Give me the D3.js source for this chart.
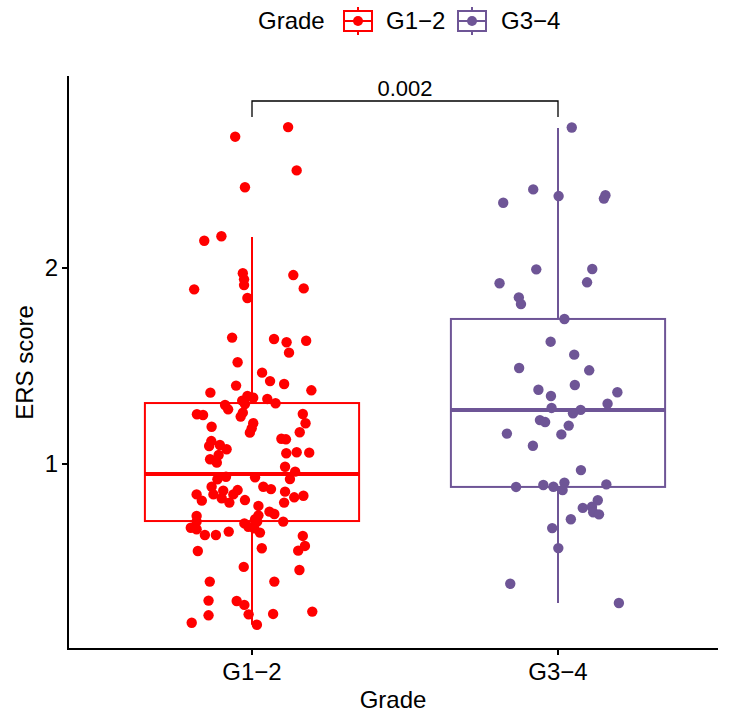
<!DOCTYPE html>
<html>
<head>
<meta charset="utf-8">
<script src="https://cdn.jsdelivr.net/npm/d3@7"></script>
<style>
  body { margin: 0; background: #fff; }
  text { font-family: "Liberation Sans", Arial, sans-serif; }
</style>
</head>
<body>
<svg id="chart" width="730" height="717"></svg>
<script>
// categories and colours
var categories = ["G1\u22122", "G3\u22124"];
var colors = ["#FF0000", "#6E5596"];

// box statistics: [lower whisker, q1, median, q3, upper whisker]
var g12Box = [0.18, 0.709, 0.949, 1.311, 2.158];
var g34Box = [0.291, 0.883, 1.276, 1.740, 2.714];

// ERS score of each sample and its jitter (in category units)
var g12Values = [2.719,2.670,2.498,2.412,2.162,2.139,1.973,1.964,1.942,1.913,1.891,1.896,1.847,1.645,1.638,1.621,1.629,1.568,1.519,1.466,
  1.423,1.408,1.400,1.364,1.376,1.347,1.338,1.323,1.306,1.332,1.310,1.301,1.279,1.254,1.250,1.262,1.242,1.255,1.208,1.208,
  1.182,1.190,1.160,1.162,1.129,1.126,1.117,1.092,1.097,1.075,1.046,1.055,1.060,1.058,1.024,1.007,0.986,0.961,0.935,0.922,
  0.932,0.923,0.884,0.884,0.872,0.867,0.864,0.845,0.845,0.859,0.845,0.838,0.830,0.825,0.813,0.816,0.803,0.803,0.786,0.757,
  0.745,0.735,0.738,0.718,0.706,0.697,0.706,0.706,0.680,0.675,0.667,0.672,0.650,0.638,0.638,0.655,0.633,0.582,0.558,0.556,
  0.570,0.475,0.459,0.400,0.400,0.303,0.301,0.281,0.228,0.233,0.235,0.247,0.190,0.180];
var g12Jitter = [0.118,-0.055,0.146,-0.023,-0.100,-0.156,-0.030,0.135,-0.026,-0.026,-0.189,0.169,-0.015,-0.065,0.072,0.113,0.177,0.121,-0.047,0.033,
  0.059,0.105,-0.052,-0.136,0.194,-0.015,0.004,-0.032,-0.023,0.050,0.077,-0.088,-0.078,-0.180,-0.160,-0.030,-0.037,0.166,0.175,0.004,
  -0.001,-0.132,-0.007,0.156,0.096,0.111,-0.133,-0.140,-0.105,-0.083,-0.109,0.112,0.146,0.187,-0.137,-0.115,0.108,0.141,-0.085,-0.113,
  0.010,0.124,-0.132,0.037,0.062,-0.047,-0.094,-0.181,-0.126,0.108,-0.061,0.168,0.138,-0.099,-0.164,-0.023,-0.074,0.105,0.021,0.057,
  0.073,-0.181,0.021,0.010,-0.181,-0.025,0.017,0.102,-0.012,-0.200,-0.181,0.007,0.026,-0.154,-0.118,-0.076,0.166,0.173,0.151,-0.177,
  0.032,-0.027,0.155,-0.138,0.073,-0.142,-0.050,-0.025,-0.142,-0.011,0.069,0.197,-0.197,0.016];

var g34Values = [2.717,2.401,2.367,2.371,2.354,2.333,1.993,1.995,1.922,1.927,1.850,1.816,1.740,1.624,1.558,1.490,1.478,1.403,1.379,1.366,
  1.347,1.308,1.286,1.276,1.259,1.224,1.214,1.196,1.155,1.151,1.093,0.969,0.883,0.893,0.884,0.905,0.867,0.896,0.815,0.776,
  0.782,0.754,0.743,0.718,0.673,0.571,0.389,0.291];
var g34Jitter = [0.045,-0.081,0.002,0.155,0.150,-0.179,-0.071,0.112,-0.191,0.095,-0.128,-0.121,0.021,-0.024,0.053,-0.127,0.102,0.055,-0.064,0.194,
  -0.023,0.162,-0.021,0.074,0.049,-0.059,-0.042,0.035,-0.167,0.011,-0.082,0.075,-0.137,-0.048,-0.015,0.021,0.015,0.158,0.130,0.081,
  0.111,0.115,0.134,0.042,-0.019,0.001,-0.156,0.199];

var yTicks = [1, 2];
var pValue = "0.002";
var bracketY = [2.77, 2.852];

var svg = d3.select("#chart"),
    panelLeft = 68, panelRight = 718, panelTop = 76, panelBottom = 649;

var x = d3.scalePoint().domain(categories).range([252, 558]),
    step = x(categories[1]) - x(categories[0]),
    y = d3.scaleLinear().domain([0, 3]).range([660, 72]);

var groups = [
  {name: categories[0], color: colors[0], box: g12Box, values: g12Values, jitter: g12Jitter},
  {name: categories[1], color: colors[1], box: g34Box, values: g34Values, jitter: g34Jitter}
];

var boxW = step * 0.7;

// boxes
var bx = svg.append("g");
groups.forEach(function(gr) {
  var cx = x(gr.name), b = gr.box;
  bx.append("line")
      .attr("x1", cx).attr("x2", cx)
      .attr("y1", y(b[0])).attr("y2", y(b[1]))
      .attr("stroke", gr.color).attr("stroke-width", 2);
  bx.append("line")
      .attr("x1", cx).attr("x2", cx)
      .attr("y1", y(b[3])).attr("y2", y(b[4]))
      .attr("stroke", gr.color).attr("stroke-width", 2);
  bx.append("rect")
      .attr("x", cx - boxW / 2).attr("width", boxW)
      .attr("y", y(b[3])).attr("height", y(b[1]) - y(b[3]))
      .attr("fill", "#fff").attr("stroke", gr.color).attr("stroke-width", 2);
  bx.append("line")
      .attr("x1", cx - boxW / 2).attr("x2", cx + boxW / 2)
      .attr("y1", y(b[2])).attr("y2", y(b[2]))
      .attr("stroke", gr.color).attr("stroke-width", 4);
});

// jittered points
groups.forEach(function(gr) {
  svg.append("g").selectAll("circle")
    .data(gr.values)
    .enter().append("circle")
      .attr("cx", function(d, i) { return x(gr.name) + gr.jitter[i] * step; })
      .attr("cy", function(d) { return y(d); })
      .attr("r", 5.2)
      .attr("fill", gr.color);
});

// axes
var yAxis = svg.append("g");
yAxis.append("line")
    .attr("x1", panelLeft).attr("x2", panelLeft).attr("y1", panelTop).attr("y2", panelBottom + 1)
    .attr("stroke", "#000").attr("stroke-width", 2);
yAxis.selectAll(".tick")
  .data(yTicks)
  .enter().append("g")
    .attr("transform", function(d) { return "translate(0," + y(d) + ")"; })
    .each(function(d) {
      var t = d3.select(this);
      t.append("line").attr("x1", panelLeft - 6).attr("x2", panelLeft).attr("stroke", "#000").attr("stroke-width", 2);
      t.append("text").attr("x", panelLeft - 10).attr("dy", "0.35em")
        .attr("text-anchor", "end").style("font-size", "24px").text(d);
    });

var xAxis = svg.append("g");
xAxis.append("line")
    .attr("x1", panelLeft - 1).attr("x2", panelRight).attr("y1", panelBottom).attr("y2", panelBottom)
    .attr("stroke", "#000").attr("stroke-width", 2);
xAxis.selectAll(".tick")
  .data(categories)
  .enter().append("g")
    .attr("transform", function(d) { return "translate(" + x(d) + "," + panelBottom + ")"; })
    .each(function(d) {
      var t = d3.select(this);
      t.append("line").attr("y1", 0).attr("y2", 6).attr("stroke", "#000").attr("stroke-width", 2);
      t.append("text").attr("y", 31).attr("text-anchor", "middle").style("font-size", "24px").text(d);
    });

svg.append("text")
    .attr("x", (panelLeft + panelRight) / 2).attr("y", 708)
    .attr("text-anchor", "middle").style("font-size", "24px").text("Grade");

svg.append("text")
    .attr("transform", "translate(33," + ((panelTop + panelBottom) / 2) + ") rotate(-90)")
    .attr("text-anchor", "middle").style("font-size", "24px").text("ERS score");

// p-value bracket
svg.append("path")
    .attr("d", "M" + x(categories[0]) + "," + y(bracketY[0]) + "V" + y(bracketY[1]) +
               "H" + x(categories[1]) + "V" + y(bracketY[0]))
    .attr("fill", "none").attr("stroke", "#000").attr("stroke-width", 1.3);
svg.append("text")
    .attr("x", (x(categories[0]) + x(categories[1])) / 2).attr("y", y(bracketY[1]) - 5)
    .attr("text-anchor", "middle").style("font-size", "22px").text(pValue);

// legend
var lg = svg.append("g").attr("transform", "translate(0,21)");
lg.append("text").attr("x", 258).attr("dy", "0.35em").style("font-size", "24px").text("Grade");
var keyX = [344, 458], labelX = [386, 501];
groups.forEach(function(gr, i) {
  var k = lg.append("g").attr("transform", "translate(" + keyX[i] + ",0)");
  k.append("line").attr("x1", 14).attr("x2", 14).attr("y1", -14).attr("y2", 14)
    .attr("stroke", gr.color).attr("stroke-width", 2);
  k.append("rect").attr("x", 0).attr("y", -10).attr("width", 28).attr("height", 20)
    .attr("fill", "#fff").attr("stroke", gr.color).attr("stroke-width", 2);
  k.append("line").attr("x1", 0).attr("x2", 28).attr("y1", 0).attr("y2", 0)
    .attr("stroke", gr.color).attr("stroke-width", 2);
  k.append("circle").attr("cx", 14).attr("cy", 0).attr("r", 5).attr("fill", gr.color);
  lg.append("text").attr("x", labelX[i]).attr("dy", "0.35em").style("font-size", "24px").text(gr.name);
});
</script>
</body>
</html>
